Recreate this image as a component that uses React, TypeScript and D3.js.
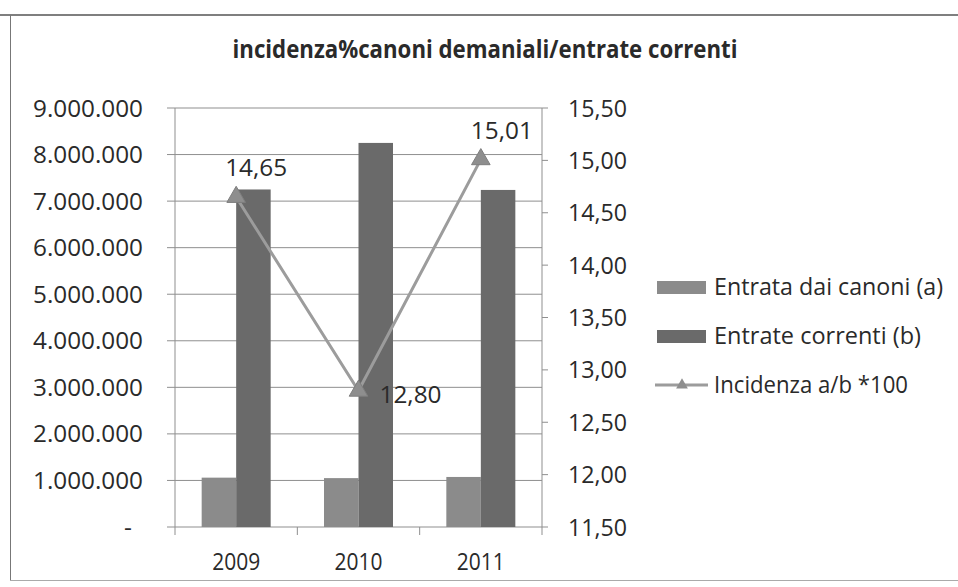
import React from "react";
import * as d3 from "d3";

const years = ["2009", "2010", "2011"];
const entrataCanoni = [1060000, 1050000, 1075000];
const entrateCorrenti = [7250000, 8250000, 7240000];
const incidenza = [14.65, 12.8, 15.01];
const leftTicks = [0, 1000000, 2000000, 3000000, 4000000, 5000000, 6000000, 7000000, 8000000, 9000000];
const rightTicks = [11.5, 12, 12.5, 13, 13.5, 14, 14.5, 15, 15.5];
const seriesNames = ["Entrata dai canoni (a)", "Entrate correnti (b)", "Incidenza a/b *100"];
const title = "incidenza%canoni demaniali/entrate correnti";

const W = 958, H = 587;
const plot = { left: 175, right: 542, top: 108, bottom: 527 };
const FONT = "'Open Sans', 'Noto Sans', sans-serif";
const TXT = "#2a2a2a";
const COL_A = "#8b8b8b";
const COL_B = "#6a6a6a";
const COL_LINE = "#9c9c9c";
const COL_MARK = "#8e8e8e";
const GRID = "#8f8f8f";

function fmtLeft(v: number) {
  if (v === 0) return "-";
  return d3.format(",")(v).replace(/,/g, ".");
}
function fmtRight(v: number) {
  return v.toFixed(2).replace(".", ",");
}

export default function App() {
  const x0 = d3.scaleBand<string>().domain(years).range([plot.left, plot.right]).paddingInner(0).paddingOuter(0);
  const yL = d3.scaleLinear().domain([0, 9000000]).range([plot.bottom, plot.top]);
  const yR = d3.scaleLinear().domain([11.5, 15.5]).range([plot.bottom, plot.top]);

  const groupW = 69;
  const barW = groupW / 2;
  const cx = (y: string) => (x0(y) as number) + x0.bandwidth() / 2;

  const linePts: [number, number][] = years.map((y, i) => [cx(y), yR(incidenza[i])]);
  const line = d3.line()(linePts) as string;
  const tri = d3.symbol().type(d3.symbolTriangle).size(150)() as string;

  const labelOffsets = [
    { dx: 20, dy: -29 },
    { dx: 52, dy: 4 },
    { dx: 21, dy: -29 },
  ];

  const legendX = 657;
  const legendRows = [287, 336, 385];

  return (
    <svg width={W} height={H} style={{ position: "absolute", left: 0, top: 0, background: "#fff" }}>
      <rect x={0} y={0} width={W} height={H} fill="#ffffff" />
      {/* outer border */}
      <line x1={0} x2={W} y1={15} y2={15} stroke="#555" strokeWidth={1.5} />
      <line x1={10.5} x2={10.5} y1={15} y2={580} stroke="#777" strokeWidth={1} />
      <line x1={10} x2={W} y1={580.5} y2={580.5} stroke="#aaa" strokeWidth={1} />

      <text x={485} y={58} textAnchor="middle" fontFamily={FONT} fontWeight={700} fontSize={25} fill={TXT}
        textLength={505} lengthAdjust="spacingAndGlyphs">{title}</text>

      {/* gridlines */}
      {leftTicks.map((t) => (
        <line key={"g" + t} x1={plot.left - 8} x2={plot.right} y1={yL(t)} y2={yL(t)} stroke={GRID} strokeWidth={1} />
      ))}
      {/* left axis */}
      <line x1={plot.left} x2={plot.left} y1={plot.top} y2={plot.bottom} stroke={GRID} strokeWidth={1} />
      {leftTicks.map((t) => (
        <text key={"l" + t} x={t === 0 ? 132 : 143} y={yL(t)} dy="0.35em" textAnchor="end" fontFamily={FONT} fontSize={24.5} fill={TXT}
          textLength={t === 0 ? undefined : 110} lengthAdjust="spacingAndGlyphs">{fmtLeft(t)}</text>
      ))}
      {/* right axis */}
      <line x1={plot.right} x2={plot.right} y1={plot.top} y2={plot.bottom} stroke={GRID} strokeWidth={1} />
      {rightTicks.map((t) => (
        <g key={"r" + t}>
          <line x1={plot.right} x2={plot.right + 6} y1={yR(t)} y2={yR(t)} stroke={GRID} strokeWidth={1} />
          <text x={568} y={yR(t)} dy="0.35em" textAnchor="start" fontFamily={FONT} fontSize={24.5} fill={TXT}
            textLength={59} lengthAdjust="spacingAndGlyphs">{fmtRight(t)}</text>
        </g>
      ))}
      {/* x axis ticks */}
      {years.map((y, i) => (
        <g key={"x" + y}>
          <line x1={x0(y) as number} x2={x0(y) as number} y1={plot.bottom} y2={plot.bottom + 8} stroke={GRID} strokeWidth={1} />
          {i === years.length - 1 && (
            <line x1={plot.right} x2={plot.right} y1={plot.bottom} y2={plot.bottom + 8} stroke={GRID} strokeWidth={1} />
          )}
          <text x={cx(y)} y={570} textAnchor="middle" fontFamily={FONT} fontSize={24} fill={TXT}
            textLength={48} lengthAdjust="spacingAndGlyphs">{y}</text>
        </g>
      ))}

      {/* bars */}
      {years.map((y, i) => (
        <g key={"b" + y}>
          <rect x={cx(y) - barW} y={yL(entrataCanoni[i])} width={barW} height={yL(0) - yL(entrataCanoni[i])} fill={COL_A} />
          <rect x={cx(y)} y={yL(entrateCorrenti[i])} width={barW} height={yL(0) - yL(entrateCorrenti[i])} fill={COL_B} />
        </g>
      ))}

      {/* line */}
      <path d={line} fill="none" stroke={COL_LINE} strokeWidth={3} />
      {linePts.map(([px, py], i) => (
        <path key={"m" + i} d={tri} transform={`translate(${px},${py})`} fill={COL_MARK} stroke="#7e7e7e" strokeWidth={1} />
      ))}
      {linePts.map(([px, py], i) => (
        <text key={"dl" + i} x={px + labelOffsets[i].dx} y={py + labelOffsets[i].dy} dy="0.35em" textAnchor="middle"
          fontFamily={FONT} fontSize={24} fill={TXT} textLength={62} lengthAdjust="spacingAndGlyphs">
          {fmtRight(incidenza[i])}
        </text>
      ))}

      {/* legend */}
      <rect x={legendX} y={legendRows[0] - 6} width={49} height={13} fill={COL_A} />
      <rect x={legendX} y={legendRows[1] - 6} width={49} height={13} fill={COL_B} />
      <line x1={legendX - 2} x2={legendX + 51} y1={legendRows[2]} y2={legendRows[2]} stroke={COL_LINE} strokeWidth={3} />
      <path d={d3.symbol().type(d3.symbolTriangle).size(60)() as string} transform={`translate(${legendX + 25},${legendRows[2]})`} fill={COL_MARK} />
      {seriesNames.map((s, i) => (
        <text key={"lg" + i} x={714} y={legendRows[i]} dy="0.35em" fontFamily={FONT} fontSize={24} fill={TXT}
          textLength={[229, 207, 194][i]} lengthAdjust="spacingAndGlyphs">{s}</text>
      ))}
    </svg>
  );
}
